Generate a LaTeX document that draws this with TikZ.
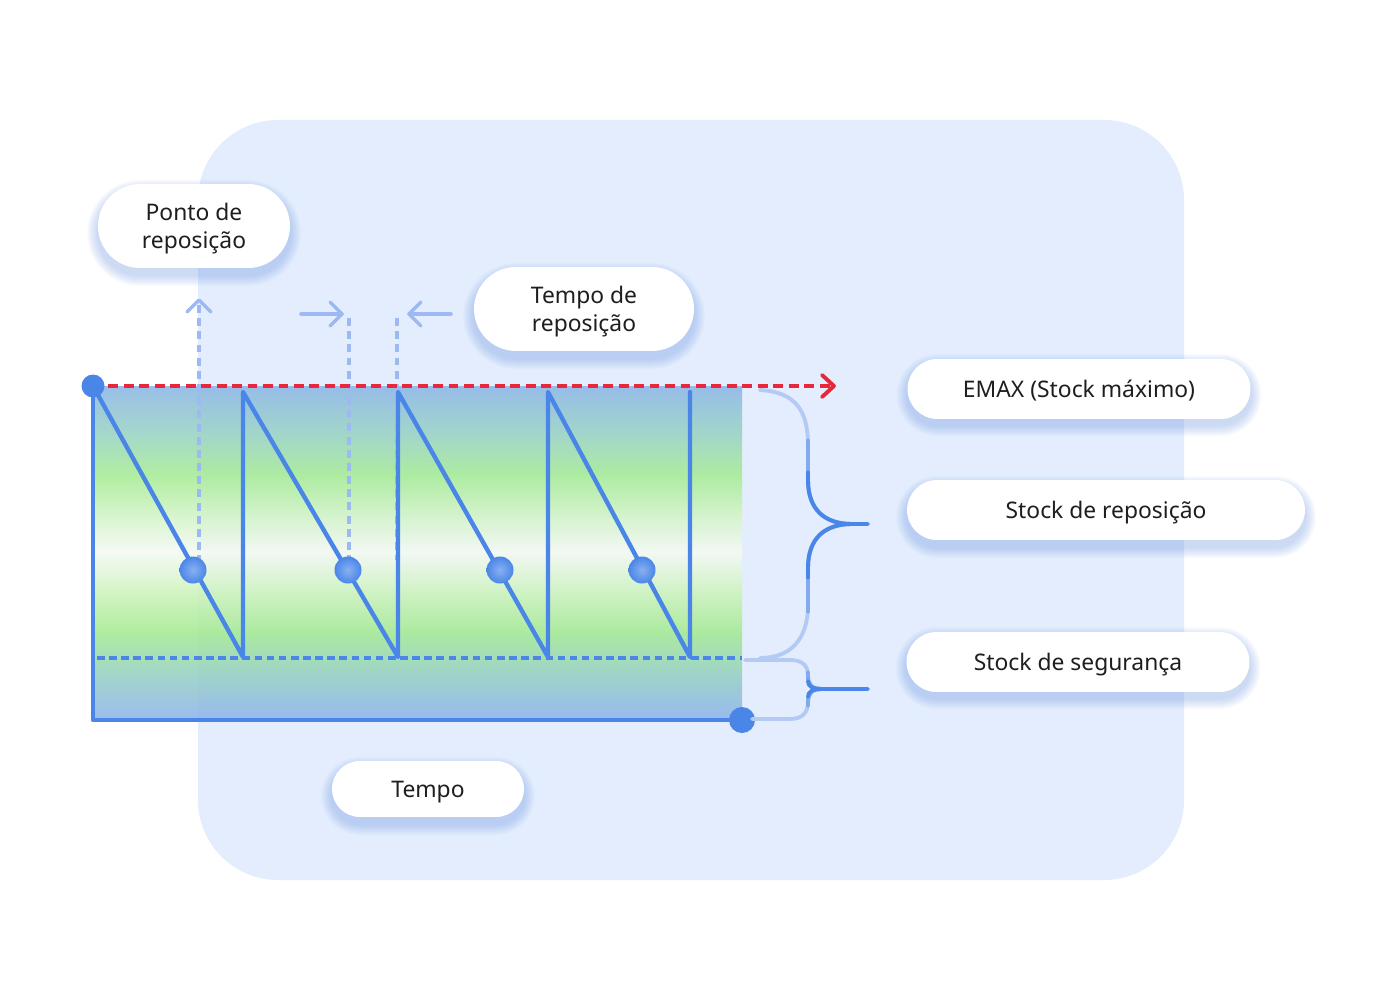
\documentclass[tikz,border=0pt]{standalone}
\usepackage{fontspec}
\setmainfont{Noto Sans}
\definecolor{bgblue}{HTML}{E3EDFD}
\definecolor{mainblue}{HTML}{4A86E8}
\definecolor{softblue}{HTML}{9DB9F2}
\definecolor{braceend}{HTML}{B3CBF4}
\definecolor{bracemid}{HTML}{82AAEE}
\definecolor{redline}{HTML}{E8283A}
\definecolor{glowc}{HTML}{6F9BEE}
\definecolor{txt}{HTML}{1E1E1E}
\definecolor{gA}{HTML}{8CB6E6}
\definecolor{gB}{HTML}{9AD4C2}
\definecolor{gC}{HTML}{A6EC94}
\definecolor{gD}{HTML}{D2F4C6}
\definecolor{gE}{HTML}{F5FAF3}
\definecolor{gF}{HTML}{CDF3BC}
\definecolor{gG}{HTML}{A4EA92}
\definecolor{gH}{HTML}{98D4BC}
\definecolor{gI}{HTML}{8EB3EF}
\tikzset{
  pill/.style={fill=white, rounded corners=#1, draw=none, text=txt, align=center,
    font=\fontsize{13}{16}\selectfont, inner sep=0pt, text depth=0pt},
  saw/.style={draw=mainblue, line width=2.5pt, line cap=round, line join=round},
  softdash/.style={draw=softblue, line width=2.1pt, dash pattern=on 4.5pt off 3pt},
  softarrow/.style={draw=softblue, line width=2pt, line cap=round, line join=round},
  bracepath/.style={line width=2.2pt, line cap=round},
  dotc/.style={fill=mainblue},
}
\newcommand{\myglow}[4]{%
  \foreach \k in {1,...,11}{%
    \pgfmathsetmacro{\rr}{(#4/2+\k)*0.02}%
    \fill[glowc, opacity=0.035, rounded corners=\rr cm]
      ({#1-#3/2-\k},{#2-#4/2-\k+7}) rectangle ({#1+#3/2+\k},{#2+#4/2+\k+7});
  }%
}
\begin{document}
\begin{tikzpicture}[x=0.02cm,y=-0.02cm]
\useasboundingbox (0,0) rectangle (1400,1000);
\fill[white] (0,0) rectangle (1400,1000);
% background panel
\fill[bgblue, rounded corners=1.6cm] (198,120) rectangle (1184,880);

% chart gradient
\begin{scope}[transparency group, opacity=0.88]
\foreach \ya/\ca/\yb/\cb in {386/gA/435/gB, 435/gB/475/gC, 475/gC/515/gD, 515/gD/552/gE,
   552/gE/592/gF, 592/gF/632/gG, 632/gG/668/gH, 668/gH/720/gI}{
  \shade[top color=\ca, bottom color=\cb] (93,\ya) rectangle (742,\yb+0.5);
}
\end{scope}

% coordinates
\coordinate (o) at (93,386);
\coordinate (b1) at (243,657); \coordinate (t1) at (243,392);
\coordinate (b2) at (398,657); \coordinate (t2) at (398,392);
\coordinate (b3) at (548,657); \coordinate (t3) at (548,392);
\coordinate (b4) at (690,657); \coordinate (t4) at (690,392);
\coordinate (bl) at (93,720);
\coordinate (br) at (742,720);

% safety stock dashed line
\draw[draw=mainblue, line width=2.2pt, dash pattern=on 4.3pt off 2.6pt] (97,658) -- (742,658);

% soft dashed verticals
\coordinate (va1) at (199,305); \coordinate (vb1) at (199,560);
\coordinate (va2) at (349,318); \coordinate (vb2) at (349,560);
\coordinate (va3) at (397,318); \coordinate (vb3) at (397,560);
\draw[softdash] (va1) -- (vb1);
\draw[softdash] (va2) -- (vb2);
\draw[softdash] (va3) -- (vb3);
% soft arrows
\draw[softarrow] (187,312) -- (199,300) -- (211,312);
\coordinate (ha1) at (301,314); \coordinate (hb1) at (342,314);
\draw[softarrow] (ha1) -- (hb1);
\draw[softarrow] (330,302) -- (342,314) -- (330,326);
\coordinate (ha2) at (451,314); \coordinate (hb2) at (409,314);
\draw[softarrow] (ha2) -- (hb2);
\draw[softarrow] (421,302) -- (409,314) -- (421,326);

% axes
\draw[saw] (o) -- (bl) -- (br);
% sawtooth
\draw[saw] (o) -- (b1) -- (t1) -- (b2) -- (t2) -- (b3) -- (t3) -- (b4) -- (t4);

% red dashed EMAX line
\coordinate (rend) at (833,386);
\draw[draw=redline, line width=2.2pt, dash pattern=on 5.6pt off 3.2pt] (o) -- (rend);
\draw[draw=redline, line width=2.2pt, line cap=round, line join=round] (822,375) -- (834,386) -- (822,397);

% dots
\fill[dotc] (o) circle (11.5);
\fill[dotc] (br) circle (13);
\foreach \x in {193,348,500,642}{
  \shade[inner color=mainblue!65!white, outer color=mainblue, shading=radial] (\x,570) circle (13.5);
}

% braces (lighter towards the ends)
\draw[bracepath, braceend] (760,390) .. controls (795,392) and (808,410) .. (808,445) -- (808,480)
   .. controls (808,510) and (825,524) .. (852,524);
\draw[bracepath, braceend] (852,524) .. controls (825,524) and (808,538) .. (808,568) -- (808,605)
   .. controls (808,640) and (790,658) .. (760,658);
\draw[bracepath, bracemid] (808,440) -- (808,480) .. controls (808,510) and (825,524) .. (852,524);
\draw[bracepath, bracemid] (852,524) .. controls (825,524) and (808,538) .. (808,568) -- (808,612);
\draw[bracepath, mainblue] (808,472) -- (808,480) .. controls (808,510) and (825,524) .. (852,524) -- (868,524);
\draw[bracepath, mainblue] (852,524) .. controls (825,524) and (808,538) .. (808,568) -- (808,578);
\draw[bracepath, braceend] (745,660) -- (790,660) .. controls (803,660) and (808,666) .. (808,676)
   .. controls (808,685) and (812,689) .. (822,689);
\draw[bracepath, braceend] (822,689) .. controls (812,689) and (808,693) .. (808,702)
   .. controls (808,712) and (803,719) .. (790,719) -- (752,719);
\draw[bracepath, bracemid] (808,672) -- (808,676) .. controls (808,685) and (812,689) .. (822,689);
\draw[bracepath, bracemid] (822,689) .. controls (812,689) and (808,693) .. (808,702) -- (808,706);
\draw[bracepath, mainblue] (808,681) .. controls (808,686) and (812,689) .. (822,689) -- (868,689);
\draw[bracepath, mainblue] (822,689) .. controls (812,689) and (808,692) .. (808,697);

% label glows
\myglow{194}{226}{192}{84}
\myglow{584}{309}{220}{84}
\myglow{1079}{388}{343}{60}
\myglow{1106}{510}{398}{60}
\myglow{1078}{661}{343}{60}
\myglow{428}{789}{192}{56}

% labels
\node[pill=0.84cm, minimum width=3.84cm, minimum height=1.68cm] (ponto) at (194,226) {Ponto de\\reposição};
\node[pill=0.84cm, minimum width=4.4cm, minimum height=1.68cm] (tempor) at (584,309) {Tempo de\\reposição};
\node[pill=0.6cm, minimum width=6.86cm, minimum height=1.2cm] (emax) at (1079,389) {EMAX (Stock máximo)};
\node[pill=0.6cm, minimum width=7.96cm, minimum height=1.2cm] (srep) at (1106,510) {Stock de reposição};
\node[pill=0.6cm, minimum width=6.86cm, minimum height=1.2cm] (sseg) at (1078,662) {Stock de segurança};
\node[pill=0.56cm, minimum width=3.84cm, minimum height=1.12cm] (tempo) at (428,789) {Tempo};
\end{tikzpicture}
\end{document}
